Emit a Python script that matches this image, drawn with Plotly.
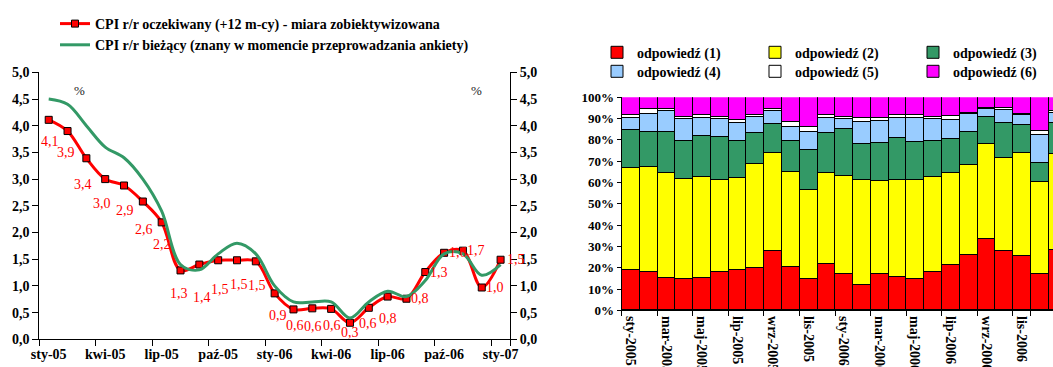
import plotly.graph_objects as go

# ---------------- data: left chart ----------------
cpi_months = ["sty-05", "lut-05", "mar-05", "kwi-05", "maj-05", "cze-05", "lip-05", "sie-05",
              "wrz-05", "paź-05", "lis-05", "gru-05", "sty-06", "lut-06", "mar-06", "kwi-06",
              "maj-06", "cze-06", "lip-06", "sie-06", "wrz-06", "paź-06", "lis-06", "gru-06",
              "sty-07"]
cpi_expected = [4.11, 3.90, 3.39, 3.00, 2.88, 2.58, 2.19, 1.29, 1.40, 1.48, 1.48, 1.46, 0.86,
                0.56, 0.58, 0.57, 0.31, 0.59, 0.80, 0.76, 1.26, 1.62, 1.66, 0.97, 1.49]
cpi_current = [4.5, 4.4, 4.0, 3.6, 3.4, 3.0, 2.4, 1.4, 1.3, 1.6, 1.8, 1.6, 1.0,
               0.7, 0.7, 0.7, 0.4, 0.7, 0.9, 0.8, 1.1, 1.6, 1.6, 1.2, 1.4]
cpi_tick_labels = ["sty-05", "kwi-05", "lip-05", "paź-05", "sty-06", "kwi-06", "lip-06",
                   "paź-06", "sty-07"]

# label placement (pixel offsets of the value labels; style, not data)
label_dx = [1, -2, -3, -3, 1, 1, 0, -2, 3, 2, 2, 1, 3, 2, 1, 1, 0, -1, 0, 14, 14, 14, 13, 13, 15]
label_dy = [-22, -21, -26, -24, -25, -28, -22, -23, -33, -29, -24, -24, -22, -16, -18, -17,
            -10, -16, -22, 0, 0, 0, 0, 0, 0]

# ---------------- data: right chart ----------------
survey_months = ["sty-2005", "lut-2005", "mar-2005", "kwi-2005", "maj-2005", "cze-2005",
                 "lip-2005", "sie-2005", "wrz-2005", "paź-2005", "lis-2005", "gru-2005",
                 "sty-2006", "lut-2006", "mar-2006", "kwi-2006", "maj-2006", "cze-2006",
                 "lip-2006", "sie-2006", "wrz-2006", "paź-2006", "lis-2006", "gru-2006",
                 "sty-2007"]
survey_tick_labels = ["sty-2005", "mar-2005", "maj-2005", "lip-2005", "wrz-2005", "lis-2005",
                      "sty-2006", "mar-2006", "maj-2006", "lip-2006", "wrz-2006", "lis-2006",
                      "sty-2007"]
ans1 = [18.9, 17.7, 15.2, 14.6, 15.2, 17.7, 18.8, 19.9, 27.9, 20.2, 14.7, 21.6, 16.9,
        11.6, 16.9, 15.5, 14.6, 18.0, 21.1, 25.8, 33.5, 27.9, 25.4, 17.1, 28.4]
ans2 = [47.8, 49.6, 49.1, 46.7, 47.4, 43.3, 43.0, 48.6, 45.8, 44.6, 41.6, 42.7, 45.9,
        49.6, 43.8, 45.7, 46.4, 44.4, 43.2, 42.3, 44.4, 43.6, 48.3, 43.0, 45.0]
ans3 = [17.7, 16.3, 19.3, 17.9, 18.9, 20.2, 17.5, 14.4, 13.8, 14.4, 18.8, 18.8, 22.2,
        16.7, 17.7, 19.6, 18.0, 16.8, 16.0, 15.3, 12.7, 16.4, 13.2, 8.9, 14.4]
ans4 = [5.7, 8.6, 9.7, 10.3, 8.8, 8.5, 8.3, 7.7, 5.8, 6.9, 8.3, 7.0, 4.8,
        10.5, 10.3, 9.5, 11.1, 10.5, 8.9, 8.5, 3.8, 6.2, 4.8, 13.3, 4.7]
ans5 = [1.6, 2.0, 1.2, 1.1, 1.1, 0.9, 1.6, 0.8, 0.9, 2.2, 2.5, 1.6, 0.8,
        1.6, 1.4, 1.1, 1.3, 1.1, 1.9, 0.4, 0.4, 0.6, 0.3, 1.7, 0.8]
ans6 = [8.3, 5.8, 5.5, 9.4, 8.6, 9.4, 10.8, 8.6, 5.8, 11.7, 14.1, 8.3, 9.4,
        10.0, 9.9, 8.6, 8.6, 9.2, 8.9, 7.7, 5.2, 5.3, 8.0, 16.0, 6.7]

answer_names = ["odpowiedź (1)", "odpowiedź (2)", "odpowiedź (3)",
                "odpowiedź (4)", "odpowiedź (5)", "odpowiedź (6)"]
answer_series = [ans1, ans2, ans3, ans4, ans5, ans6]
answer_colors = ["#FF0000", "#FFFF00", "#339966", "#99CCFF", "#FFFFFF", "#FF00FF"]

SERIF = "Liberation Serif"
W, H = 1053, 367

fig = go.Figure()

# left chart lines
fig.add_trace(go.Scatter(
    x=cpi_months, y=cpi_expected, name="CPI r/r oczekiwany (+12 m-cy) - miara zobiektywizowana",
    mode="lines+markers", line=dict(color="#FF0000", width=3, shape="spline", smoothing=1.0),
    marker=dict(symbol="square", size=7, color="#FF0000", line=dict(color="#000000", width=1)),
    xaxis="x", yaxis="y", legend="legend"))
fig.add_trace(go.Scatter(
    x=cpi_months, y=cpi_current, name="CPI r/r bieżący (znany w momencie przeprowadzania ankiety)",
    mode="lines", line=dict(color="#339966", width=3, shape="spline", smoothing=1.0),
    xaxis="x", yaxis="y2", legend="legend"))

# right chart bars
for i, (nm, vals, col) in enumerate(zip(answer_names, answer_series, answer_colors)):
    fig.add_trace(go.Bar(
        x=survey_months, y=vals, name=nm, marker=dict(color=col, line=dict(color="#000000", width=1)),
        xaxis="x2", yaxis="y3", legend="legend2" if i < 3 else "legend3"))

# data labels for the expected CPI line
annotations = []
for m, v, dx, dy in zip(cpi_months, cpi_expected, label_dx, label_dy):
    txt = f"{v:.1f}".replace(".", ",")
    annotations.append(dict(x=m, y=v, xref="x", yref="y", text=txt, showarrow=False,
                            xshift=dx, yshift=dy,
                            font=dict(family=SERIF, size=14, color="#FF0000")))
annotations.append(dict(x=71.7 / W, y=1 - 81 / H, xref="paper", yref="paper", text="%",
                        showarrow=False, font=dict(family=SERIF, size=13, color="#222222")))
annotations.append(dict(x=476 / W, y=1 - 81 / H, xref="paper", yref="paper", text="%",
                        showarrow=False, font=dict(family=SERIF, size=13, color="#222222")))

tickfont = dict(family=SERIF, size=14, color="#000000", weight="bold")
axis_common = dict(showline=True, linecolor="#000000", linewidth=1, showgrid=False,
                   zeroline=False, ticks="outside", tickcolor="#000000", tickfont=tickfont)
legend_font = dict(family=SERIF, size=14, color="#000000", weight="bold")

fig.update_layout(
    width=W, height=H, margin=dict(l=0, r=0, t=0, b=0, autoexpand=False),
    paper_bgcolor="#FFFFFF", plot_bgcolor="#FFFFFF",
    separators=", ", barmode="stack", bargap=0,
    showlegend=True,
    xaxis=dict(**axis_common, domain=[39.3 / W, 510 / W], anchor="y", type="category",
               range=[-0.5, 24.5], tickmode="array", tickvals=cpi_tick_labels,
               tickson="boundaries", ticklen=6, tickangle=0, ticklabelstandoff=2),
    yaxis=dict(**axis_common, domain=[(H - 339.3) / H, (H - 72.3) / H], anchor="x",
               range=[0, 5], dtick=0.5, tickformat=".1f", ticklen=6),
    yaxis2=dict(**axis_common, overlaying="y", side="right", anchor="x",
                range=[0, 5], dtick=0.5, tickformat=".1f", ticklen=6),
    xaxis2=dict(**axis_common, domain=[621.7 / W, 1.0], anchor="y3", type="category",
                range=[-0.5, 23.76], tickmode="array", tickvals=survey_tick_labels,
                tickson="boundaries", ticklen=5, tickangle=90, ticklabelstandoff=2),
    yaxis3=dict(**axis_common, domain=[(H - 310.3) / H, (H - 97.3) / H], anchor="x2",
                range=[0, 100], dtick=10, ticksuffix="%", ticklen=4),
    legend=dict(x=55 / W, y=1 - 8 / H, xanchor="left", yanchor="top", orientation="v",
                bgcolor="rgba(0,0,0,0)", font=legend_font, tracegroupgap=0),
    legend2=dict(x=597 / W, y=1 - 52.7 / H, xanchor="left", yanchor="middle", orientation="h",
                 entrywidth=113, entrywidthmode="pixels", bgcolor="rgba(0,0,0,0)",
                 traceorder="normal", font=legend_font),
    legend3=dict(x=597 / W, y=1 - 71.7 / H, xanchor="left", yanchor="middle", orientation="h",
                 entrywidth=113, entrywidthmode="pixels", bgcolor="rgba(0,0,0,0)",
                 traceorder="normal", font=legend_font),
    annotations=annotations,
)

fig.update_yaxes(tickfont=dict(family=SERIF, size=13, color="#000000", weight="bold"),
                 selector=dict(anchor="x2"))

fig.write_html("out.html")
